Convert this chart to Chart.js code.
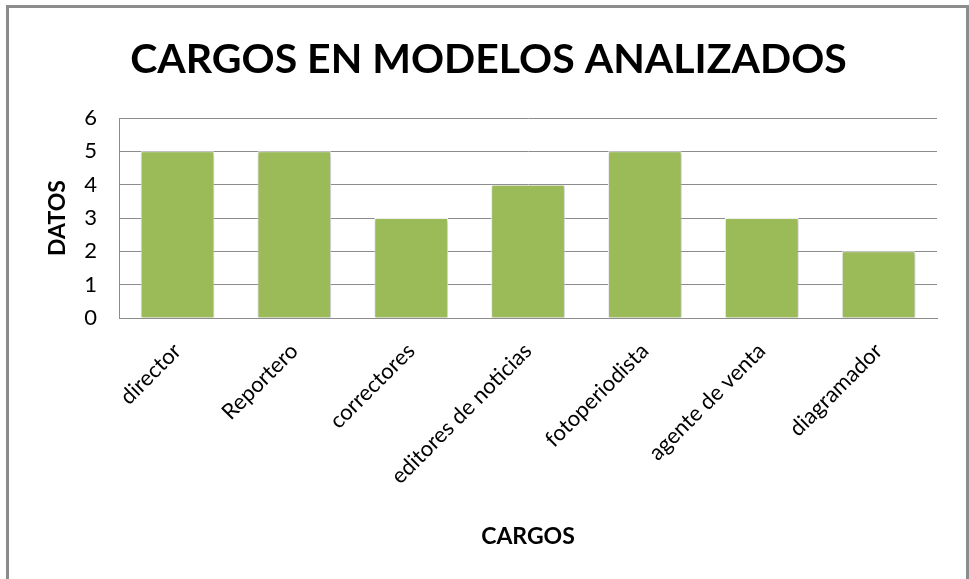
<!DOCTYPE html>
<html>
<head>
<meta charset="utf-8">
<title>Cargos en modelos analizados</title>
<style>
  body { margin: 0; background: #fff; }
  #wrap { position: relative; width: 969px; height: 579px; overflow: hidden; }
  #chart { position: absolute; left: 0; top: 0; }
  /* marco gris del gráfico */
  #marco {
    position: absolute; left: 6px; top: 5px; width: 957px; height: 600px;
    border: 3px solid #8c8c8c; pointer-events: none;
  }
</style>
</head>
<body>
<div id="wrap">
  <canvas id="chart" width="969" height="579"></canvas>
  <div id="marco"></div>
</div>
<script src="https://cdn.jsdelivr.net/npm/chart.js"></script>
<script>
  // datos
  const cargos = ['director', 'Reportero', 'correctores', 'editores de noticias', 'fotoperiodista', 'agente de venta', 'diagramador'];
  const datos = [5, 5, 3, 4, 5, 3, 2];
  const ticksY = [0, 1, 2, 3, 4, 5, 6];

  const fuente = 'Lato, "Open Sans", sans-serif';

  // sombra suave de las barras, como en Excel
  const sombra = {
    id: 'sombra',
    beforeDatasetsDraw(chart) {
      const ctx = chart.ctx;
      ctx.save();
      ctx.shadowColor = 'rgba(0,0,0,0.3)';
      ctx.shadowBlur = 4;
      ctx.shadowOffsetX = 1;
      ctx.shadowOffsetY = 1;
    },
    afterDatasetsDraw(chart) {
      chart.ctx.restore();
    }
  };

  new Chart(document.getElementById('chart'), {
    type: 'bar',
    data: {
      labels: cargos,
      datasets: [{
        label: 'DATOS',
        data: datos,
        backgroundColor: '#9bbb59',
        borderColor: '#ffffff',
        borderWidth: 1,
        barPercentage: 0.63,
        categoryPercentage: 1
      }]
    },
    plugins: [sombra],
    options: {
      responsive: false,
      animation: false,
      layout: { padding: { left: 40, right: 32, top: 0, bottom: 29 } },
      plugins: {
        legend: { display: false },
        tooltip: { enabled: false },
        title: {
          display: true,
          text: 'CARGOS EN MODELOS ANALIZADOS',
          color: '#000',
          font: { family: fuente, size: 41, weight: 'bold', lineHeight: 1.2 },
          padding: { top: 35, bottom: 33.8 }
        }
      },
      scales: {
        x: {
          grid: { display: false },
          border: { display: true, color: '#8c8c8c', width: 1 },
          ticks: {
            color: '#000',
            font: { family: fuente, size: 22 },
            minRotation: 45,
            maxRotation: 45,
            padding: 12
          },
          title: {
            display: true,
            text: 'CARGOS',
            color: '#000',
            font: { family: fuente, size: 23, weight: 'bold' },
            padding: { top: 10, bottom: 0 }
          },
          afterFit(scale) { scale.height = 579 - 29 - 318; }
        },
        y: {
          min: 0,
          max: 6,
          afterBuildTicks(scale) { scale.ticks = ticksY.map(v => ({ value: v })); },
          grid: { color: '#8c8c8c', drawTicks: false },
          border: { display: true, color: '#8c8c8c', width: 1 },
          ticks: {
            color: '#000',
            font: { family: fuente, size: 22 },
            padding: 22
          },
          title: {
            display: true,
            text: 'DATOS',
            color: '#000',
            font: { family: fuente, size: 23, weight: 'bold' },
            padding: { top: 4, bottom: 4 }
          },
          afterFit(scale) { scale.width = 119 - 40; }
        }
      }
    }
  });
</script>
</body>
</html>
